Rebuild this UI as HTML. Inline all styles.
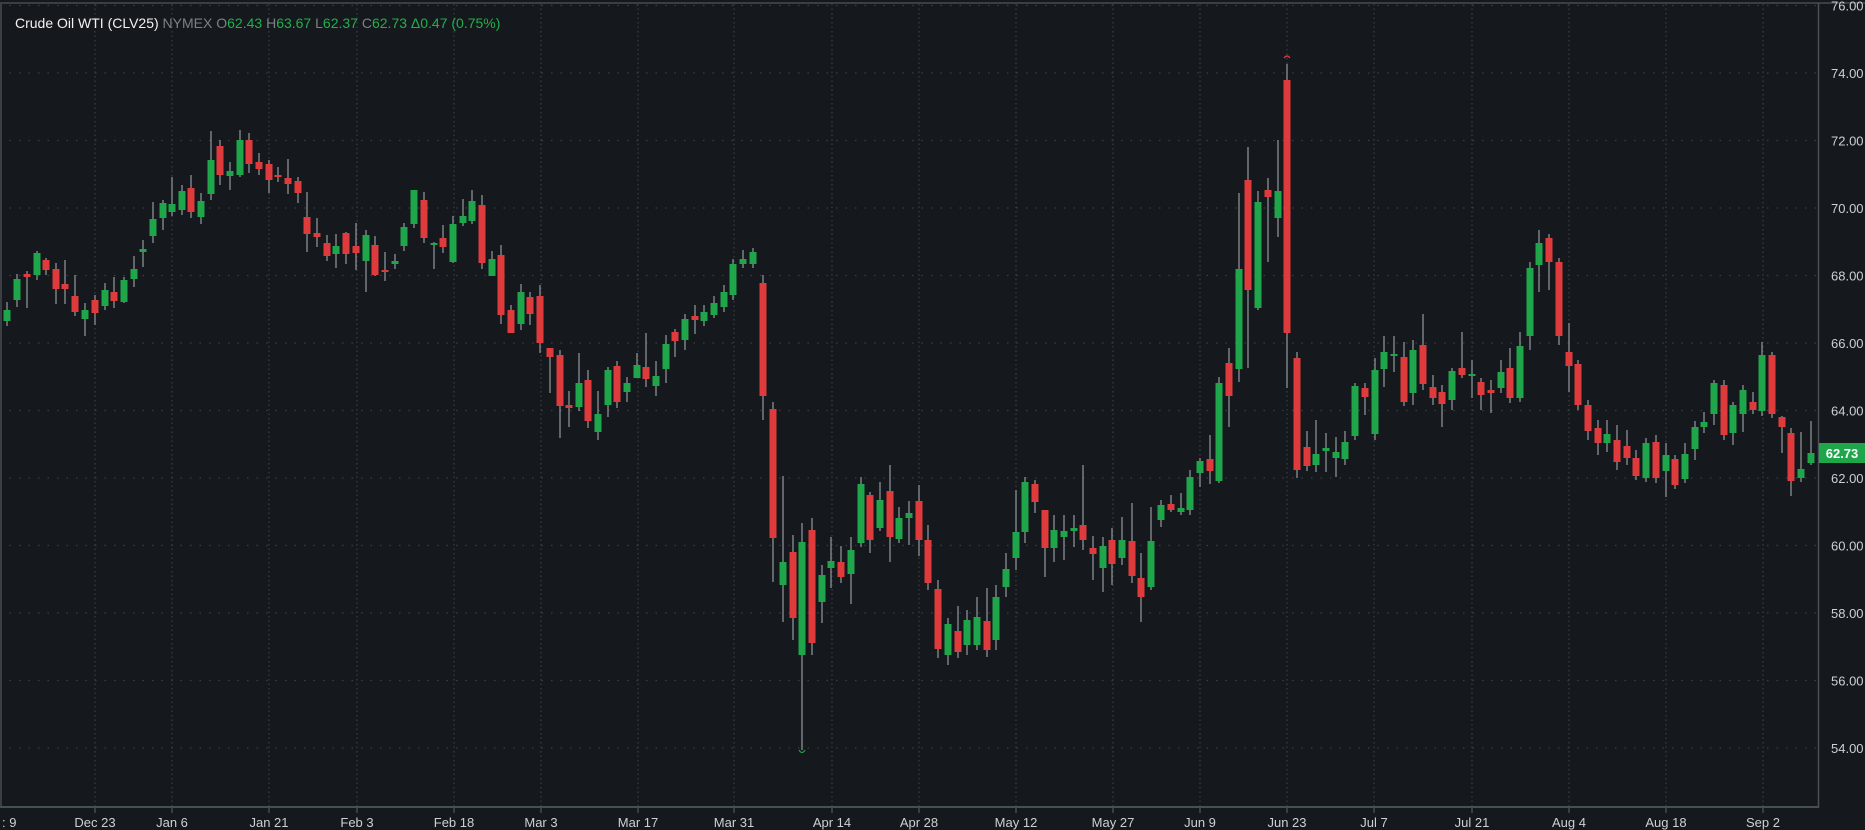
<!DOCTYPE html>
<html><head><meta charset="utf-8"><style>
html,body{margin:0;padding:0;background:#15181c;width:1865px;height:830px;overflow:hidden}
svg{display:block}
text{font-family:"Liberation Sans",sans-serif}
</style></head><body>
<svg id="s" width="1865" height="830" xmlns="http://www.w3.org/2000/svg">
<rect width="1865" height="830" fill="#15181c"/>
<g id="grid"></g>
<g id="candles"></g>
<line x1="0" y1="3" x2="1865" y2="3" stroke="#3a3f44" stroke-width="2"/>
<line x1="1" y1="3" x2="1" y2="807" stroke="#3a3f44" stroke-width="2"/>
<line x1="1818.5" y1="3" x2="1818.5" y2="808" stroke="#4a5356" stroke-width="1.5"/>
<line x1="0" y1="807" x2="1819" y2="807" stroke="#44524f" stroke-width="2"/>
<g id="labels" font-size="13" fill="#cdd1d4"></g>
<rect x="1819" y="443" width="46" height="20" fill="#1fa64a"/>
<text x="1842" y="458" font-size="13" font-weight="bold" fill="#ffffff" text-anchor="middle">62.73</text>
<path d="M1284 58 Q1287 54 1290 58" stroke="#e0393e" fill="none" stroke-width="1.2"/>
<path d="M799 750 Q802 755 805 750" stroke="#1fa64a" fill="none" stroke-width="1.2"/>
<text x="15" y="28" font-size="14"><tspan fill="#f2f2f2">Crude Oil WTI (CLV25) </tspan><tspan fill="#7d8287">NYMEX O</tspan><tspan fill="#22b04c">62.43 </tspan><tspan fill="#7d8287">H</tspan><tspan fill="#22b04c">63.67 </tspan><tspan fill="#7d8287">L</tspan><tspan fill="#22b04c">62.37 </tspan><tspan fill="#7d8287">C</tspan><tspan fill="#22b04c">62.73 Δ0.47 (0.75%)</tspan></text>
</svg>
<script>
var NS="http://www.w3.org/2000/svg";
function el(n,a,p){var e=document.createElementNS(NS,n);for(var k in a)e.setAttribute(k,a[k]);p.appendChild(e);return e;}
var grid=document.getElementById('grid'),lab=document.getElementById('labels');
for(var p=76;p>=54;p-=2){var y=73+(74-p)*33.75;
 el('line',{x1:0,y1:y,x2:1818,y2:y,stroke:'#3a3f45','stroke-dasharray':'1.5,8',"stroke-width":1.2},grid);
 var t=el('text',{x:1831,y:y+5},lab);t.textContent=p.toFixed(2);}
var vx=[95,172,269,357,454,541,638,734,832,919,1016,1113,1200,1287,1374,1472,1569,1666,1763];
var vl=["Dec 23","Jan 6","Jan 21","Feb 3","Feb 18","Mar 3","Mar 17","Mar 31","Apr 14","Apr 28","May 12","May 27","Jun 9","Jun 23","Jul 7","Jul 21","Aug 4","Aug 18","Sep 2"];
for(var i=0;i<vx.length;i++){
 el('line',{x1:vx[i],y1:4,x2:vx[i],y2:807,stroke:'#3a3f45','stroke-dasharray':'1.5,3',"stroke-width":1.2},grid);
 el('line',{x1:vx[i],y1:807,x2:vx[i],y2:813,stroke:'#5a6466',"stroke-width":1},grid);
 var t=el('text',{x:vx[i],y:827,'text-anchor':'middle'},lab);t.textContent=vl[i];}
var t0=el('text',{x:2,y:827},lab);t0.textContent=": 9";
var D=[[7,310,321,302,326,1],[17,279,300,274,307,1],[27,274,277,271,308,0],[37,253,275,251,280,1],[46,260,270,258,275,0],[56,269,289,263,304,0],[65,284,289,260,304,0],[75,296,312,275,316,0],[85,310,319,303,336,1],[95,300,313,295,325,0],[105,290,306,283,310,1],[114,292,301,277,308,0],[124,280,302,277,303,1],[134,269,279,256,287,1],[143,249,252,240,267,1],[153,219,236,202,243,1],[163,203,218,200,230,1],[172,204,212,177,216,1],[182,191,210,185,215,1],[191,188,212,175,218,0],[201,201,217,193,224,1],[211,160,194,131,200,1],[220,146,175,140,185,0],[230,171,176,162,190,1],[240,140,175,130,177,1],[249,140,164,133,173,0],[259,162,169,153,175,0],[269,164,180,160,193,0],[278,175,177,167,182,0],[288,178,184,159,194,0],[298,181,193,177,203,0],[307,217,234,192,252,0],[317,233,237,218,247,0],[327,243,256,235,261,0],[336,246,254,234,268,1],[346,233,254,232,264,0],[356,246,253,223,270,0],[366,235,261,230,292,1],[375,245,275,236,276,0],[385,270,272,252,281,0],[395,261,264,254,269,1],[404,227,246,223,251,1],[414,190,224,190,228,1],[424,200,238,192,243,0],[434,243,245,242,269,1],[443,238,247,225,253,0],[453,224,262,216,263,1],[463,216,223,199,226,1],[472,201,221,190,224,1],[482,205,263,195,269,0],[492,259,276,251,276,1],[501,255,315,245,324,0],[511,310,333,305,333,0],[521,292,324,284,330,1],[530,297,314,292,325,0],[540,296,343,285,353,0],[550,348,357,348,393,0],[560,355,406,350,438,0],[569,405,408,391,427,0],[579,383,407,353,411,1],[588,380,421,370,428,0],[598,414,432,391,440,1],[608,370,405,367,417,1],[617,366,402,361,408,0],[627,383,392,377,402,1],[637,365,378,353,378,1],[646,367,379,333,387,0],[656,376,386,361,396,1],[666,344,369,335,383,1],[675,332,341,329,357,0],[685,319,340,314,350,1],[695,316,320,305,334,0],[704,312,321,305,326,1],[714,303,315,296,318,1],[724,292,307,285,312,1],[733,264,295,259,300,1],[743,259,264,250,268,1],[753,252,264,248,268,1],[763,283,396,275,420,0],[773,409,538,402,582,0],[783,562,585,476,622,1],[793,552,618,535,640,0],[802,542,655,523,750,1],[812,530,643,518,655,0],[822,575,602,565,623,1],[831,561,568,537,588,1],[841,562,577,546,583,0],[851,550,574,537,604,1],[861,484,543,477,547,1],[870,495,540,492,553,0],[880,500,528,482,531,1],[890,491,537,465,562,0],[899,518,539,507,543,1],[909,513,518,501,545,1],[919,501,540,485,556,0],[928,540,583,525,590,0],[938,589,649,580,658,0],[948,624,655,618,665,1],[958,631,652,606,658,0],[967,620,645,610,655,1],[977,617,645,597,650,1],[987,621,650,588,657,0],[996,597,640,585,650,1],[1006,569,587,553,597,1],[1016,532,558,490,570,1],[1025,482,532,477,543,1],[1035,484,502,480,513,0],[1045,510,548,510,577,0],[1054,530,548,515,562,1],[1064,531,537,515,560,1],[1074,528,531,515,547,1],[1083,525,540,465,550,0],[1093,548,554,536,580,0],[1103,546,568,537,592,1],[1112,540,564,528,585,0],[1122,540,558,517,565,1],[1132,541,576,503,583,0],[1141,578,597,553,622,0],[1151,541,587,507,590,1],[1161,505,520,500,527,1],[1171,504,510,495,512,0],[1181,508,512,493,515,1],[1190,477,510,470,515,1],[1200,461,473,458,487,1],[1210,459,471,435,484,0],[1219,383,481,377,483,1],[1229,363,396,348,427,0],[1239,269,369,193,382,1],[1248,180,290,147,368,0],[1258,202,308,191,310,1],[1268,190,197,178,262,0],[1278,191,218,140,237,1],[1287,80,333,64,388,0],[1297,358,470,352,478,0],[1307,447,466,431,471,0],[1316,454,465,420,472,1],[1326,448,451,433,472,1],[1336,452,458,437,477,1],[1345,442,459,431,465,1],[1355,386,436,383,440,1],[1365,388,397,383,415,0],[1375,370,434,358,440,1],[1384,352,369,336,387,1],[1394,354,356,336,372,1],[1404,357,402,342,406,0],[1413,350,393,340,405,1],[1423,345,384,314,390,0],[1433,387,398,375,405,0],[1442,392,404,385,427,0],[1452,371,400,368,410,1],[1462,368,375,332,378,0],[1472,374,376,360,398,1],[1481,382,395,378,410,0],[1491,390,393,380,413,0],[1501,372,388,360,393,1],[1510,368,398,348,403,0],[1520,346,398,332,402,1],[1530,268,336,262,350,1],[1539,243,265,230,292,1],[1549,238,262,234,290,0],[1559,262,336,258,345,0],[1569,352,366,323,392,0],[1578,364,405,360,410,0],[1588,405,431,400,440,0],[1598,428,443,420,455,0],[1607,434,443,420,452,1],[1617,440,462,425,470,0],[1627,446,458,430,465,0],[1636,458,476,450,480,0],[1646,443,478,438,482,1],[1656,442,478,435,483,0],[1666,455,471,443,497,1],[1675,459,485,455,489,0],[1685,454,479,443,483,1],[1695,427,449,421,460,1],[1704,422,427,412,433,1],[1714,383,414,380,425,1],[1724,385,435,380,440,0],[1733,405,433,402,445,1],[1743,390,414,385,432,1],[1753,402,410,392,414,0],[1762,355,411,342,416,1],[1772,355,414,352,418,0],[1782,417,427,416,453,0],[1791,433,481,428,496,0],[1801,469,478,432,482,1],[1811,453,463,421,465,1]];
var cg=document.getElementById('candles');
D.forEach(function(d){
 var x=d[0],c=d[5]?'#1fa64a':'#df3a3c';
 el('line',{x1:x,y1:d[3],x2:x,y2:d[4],stroke:'#8b9095','stroke-width':1.3},cg);
 var h=Math.max(2,d[2]-d[1]);
 el('rect',{x:x-3.5,y:d[1],width:7,height:h,fill:c},cg);
});
</script>
</body></html>
